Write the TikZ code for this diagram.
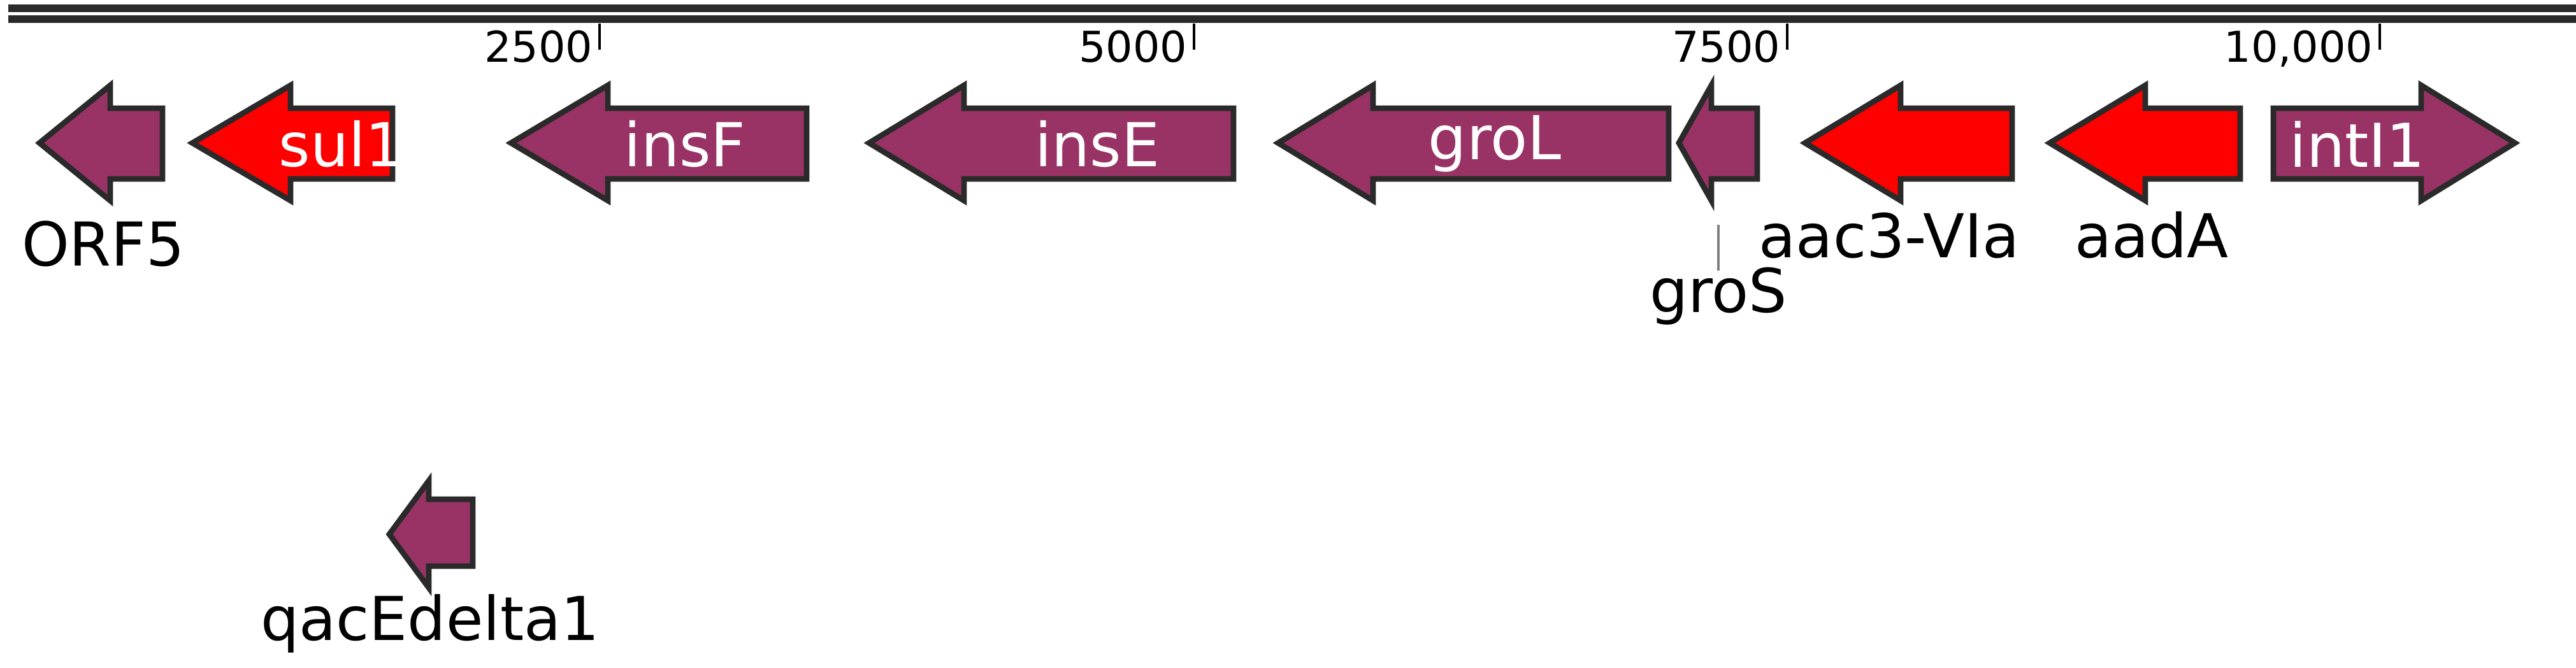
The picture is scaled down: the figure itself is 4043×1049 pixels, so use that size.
\documentclass[tikz,border=0pt]{standalone}
\usepackage{fontspec}
\setmainfont{DejaVu Sans}
\usepackage{tikz}

\definecolor{genepurple}{HTML}{993366}
\definecolor{genered}{HTML}{FF0000}
\definecolor{outline}{HTML}{2A2A2A}

\tikzset{
	gene/.style={draw=outline, line width=2.5pt, line join=miter},
	genelabel/.style={font=\fontsize{27}{30}\selectfont, text=black, inner sep=0pt},
	inlabel/.style={font=\fontsize{27}{30}\selectfont, text=white, inner sep=0pt},
	ticklabel/.style={font=\fontsize{19}{22}\selectfont, inner sep=0pt, anchor=base east},
}

% arrow: name, tip, head base, tail, top, bottom, body top, body bottom, fill
\newcommand{\genearrow}[9]{%
	\draw[gene, fill=#9] (#2,{(#5+#6)/2}) -- (#3,#5) -- (#3,#7) -- (#4,#7)
		-- (#4,#8) -- (#3,#8) -- (#3,#6) -- cycle;
	\coordinate (#1) at ({(#3+#4)/2},{(#5+#6)/2});
}

\begin{document}
\begin{tikzpicture}[x=0.01cm, y=-0.01cm]
	\useasboundingbox (0,0) rectangle (4043,1049);

	% scale bar
	\fill[outline] (13,7) rectangle (4043,19);
	\fill[outline] (13,24) rectangle (4043,36);
	\foreach \tx/\tl in {941/2500, 1874/5000, 2805/7500, 3735/{10,000}}{
		\draw[line width=1.2pt] (\tx,37) -- (\tx,78);
		\node[ticklabel] (t\tx) at (\tx-10,98) {\tl};
	}

	% genes
	\genearrow{orf}{62}{173}{255}{134}{315}{170}{281}{genepurple}
	\genearrow{sul}{302}{456}{616}{134}{315}{170}{281}{genered}
	\genearrow{insf}{802}{954}{1266}{134}{315}{170}{281}{genepurple}
	\genearrow{inse}{1364}{1513}{1936}{134}{315}{170}{281}{genepurple}
	\genearrow{grol}{2006}{2155}{2619}{134}{315}{170}{281}{genepurple}
	\genearrow{gros}{2635}{2686}{2758}{134}{315}{170}{281}{genepurple}
	\genearrow{aac}{2833}{2983}{3158}{134}{315}{170}{281}{genered}
	\genearrow{aad}{3217}{3367}{3516}{134}{315}{170}{281}{genered}
	\genearrow{int}{3947}{3800}{3568}{134}{315}{170}{281}{genepurple}
	\genearrow{qac}{611}{673}{742}{755}{923}{784}{889}{genepurple}

	% labels inside
	\node[inlabel] (lsul) at (536,226) {sul1};
	\node[inlabel] (linsf) at (1075,226) {insF};
	\node[inlabel] (linse) at (1722,226) {insE};
	\node[inlabel] (lgrol) at (2346,226) {groL};
	\node[inlabel] (lint) at (3700,226) {intI1};

	% labels below
	\node[genelabel, anchor=base] (lorf) at (162,418) {ORF5};
	\node[genelabel, anchor=base] (laac) at (2965,405) {aac3-VIa};
	\node[genelabel, anchor=base] (laad) at (3377,405) {aadA};
	\node[genelabel, anchor=base] (lqac) at (675,1005) {qacEdelta1};
	\coordinate (gtop) at (2697,353);
	\coordinate (gbot) at (2697,425);
	\node[genelabel, anchor=base] (lgros) at (2697,490) {groS};
	\draw[gray, line width=1pt] (gtop) -- (gbot);
\end{tikzpicture}
\end{document}
